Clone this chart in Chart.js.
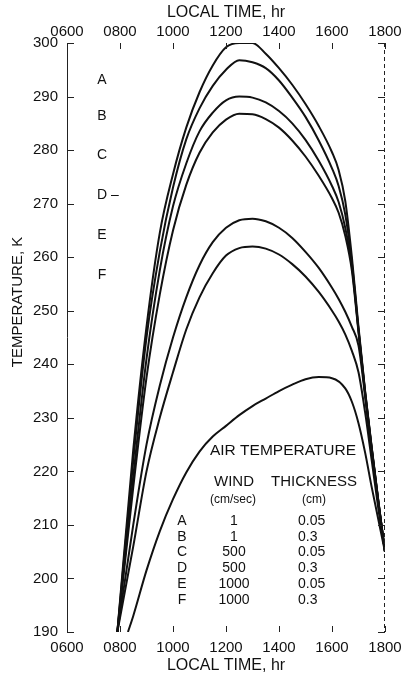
<!DOCTYPE html>
<html>
<head>
<meta charset="utf-8">
<script src="https://cdn.jsdelivr.net/npm/chart.js@4.4.1/dist/chart.umd.min.js"></script>
<style>
  html, body { margin: 0; padding: 0; background: #fff; }
  #wrap { width: 401px; height: 677px; position: relative; }
</style>
</head>
<body>
<div id="wrap"><canvas id="tempChart"></canvas></div>
<script>
// local time in hours, shared by the six surface curves
const hours = [7.9, 8.5, 9, 9.5, 10, 10.5, 11, 11.5, 12, 12.5, 13, 13.5, 14, 14.5, 15, 15.5, 16, 16.25, 16.5, 16.75, 17, 17.25, 17.5, 17.75, 18];
const tempA = [190, 224, 247, 264.5, 275.5, 284.2, 290.8, 295.8, 299.2, 300, 300, 298, 295.3, 292.2, 288.6, 284.5, 279.6, 276.3, 270.5, 260, 247, 235, 224.5, 214.5, 205];
const tempB = [190, 222, 245, 261, 273, 282, 287.8, 292, 295, 296.8, 296.4, 295.3, 293, 289.8, 286.2, 281.8, 276.6, 273.3, 268, 259, 246.5, 234.8, 224.3, 214.4, 205];
const tempC = [190, 219, 241, 257.5, 269.5, 277.5, 283.5, 287, 289.3, 290, 289.8, 288.9, 287.3, 285, 281.9, 278, 273.3, 270.3, 265.5, 258.3, 246.3, 234.6, 224.2, 214.3, 205];
const tempD = [190, 217, 237.5, 253, 265, 273.5, 279.5, 283.3, 285.7, 286.8, 286.7, 285.8, 284.2, 281.8, 278.8, 275.2, 271, 268.3, 264, 257.5, 246, 234.4, 224, 214.2, 205];
const tempE = [190, 210, 225, 236, 245, 252.5, 258.5, 262.8, 265.5, 266.9, 267.2, 266.7, 265.5, 263.6, 261, 258, 254.3, 252.2, 249.8, 247, 243.5, 234, 223.5, 214, 205];
const tempF = [190, 206, 220, 230, 238.5, 246.5, 252.5, 257, 260.3, 261.7, 262, 261.6, 260.5, 258.7, 256.4, 253.5, 250, 248, 245.6, 242.5, 238.5, 231, 222, 213, 205];

// air temperature curve
const airHours = [8.3, 8.5, 9, 9.5, 10, 10.5, 11, 11.5, 12, 12.5, 13, 13.5, 14, 14.5, 15, 15.5, 16, 16.5, 16.75, 17, 17.25, 17.5, 18];
const airTemp = [190, 193, 201.5, 208.8, 214.8, 219.8, 223.7, 226.5, 228.5, 230.5, 232.2, 233.6, 235, 236.2, 237.2, 237.6, 237.4, 235.5, 233, 229, 223.5, 217, 205];

// axis tick labels
const timeTicks = ['0600', '0800', '1000', '1200', '1400', '1600', '1800'];

// legend table
const caseLetters = ['A', 'B', 'C', 'D', 'E', 'F'];
const windSpeeds = ['1', '1', '500', '500', '1000', '1000'];
const thicknesses = ['0.05', '0.3', '0.05', '0.3', '0.05', '0.3'];

const FONT = '"Liberation Sans", Arial, sans-serif';
const INK = '#111';

function toPoints(xs, ys) {
    return xs.map((h, i) => ({ x: h, y: ys[i] }));
}

function lineSet(label, points) {
    return {
        label: label,
        data: points,
        borderColor: INK,
        borderWidth: 2,
        pointRadius: 0,
        fill: false,
        cubicInterpolationMode: 'monotone'
    };
}

const curves = [tempA, tempB, tempC, tempD, tempE, tempF];
const datasets = curves.map((c, i) => lineSet(caseLetters[i], toPoints(hours, c)));
datasets.push(lineSet('AIR TEMPERATURE', toPoints(airHours, airTemp)));

function timeLabel(value) {
    const idx = Math.round((value - 6) / 2);
    return timeTicks[idx] || '';
}

// fixed axis box sizes so the plot area sits where the original one does
function fixBox(size) {
    return s => {
        if (s.isHorizontal()) {
            s.height = size;
        } else {
            s.width = size;
        }
        s.paddingLeft = 0;
        s.paddingRight = 0;
    };
}

// axis lines, inward tick marks and the text inside the plot
const annotate = {
    id: 'annotate',
    afterDraw(chart) {
        const ctx = chart.ctx;
        const xs = chart.scales.x;
        const ys = chart.scales.y;
        const area = chart.chartArea;
        ctx.save();
        ctx.strokeStyle = '#222';
        ctx.lineWidth = 1;

        ctx.beginPath();
        ctx.moveTo(area.left + 0.5, area.top);
        ctx.lineTo(area.left + 0.5, area.bottom);
        ctx.stroke();
        ctx.setLineDash([4, 3]);
        ctx.beginPath();
        ctx.moveTo(area.right - 0.5, area.top);
        ctx.lineTo(area.right - 0.5, area.bottom);
        ctx.stroke();
        ctx.setLineDash([]);

        ctx.beginPath();
        ys.ticks.forEach(t => {
            const py = Math.round(ys.getPixelForValue(t.value)) + 0.5;
            ctx.moveTo(area.left, py);
            ctx.lineTo(area.left + 7, py);
            ctx.moveTo(area.right, py);
            ctx.lineTo(area.right - 7, py);
        });
        xs.ticks.forEach(t => {
            const px = Math.round(xs.getPixelForValue(t.value)) + 0.5;
            ctx.moveTo(px, area.bottom);
            ctx.lineTo(px, area.bottom - 6);
            ctx.moveTo(px, area.top);
            ctx.lineTo(px, area.top + 6);
        });
        ctx.stroke();

        ctx.fillStyle = INK;

        // y axis title
        ctx.save();
        ctx.translate(18, 302);
        ctx.rotate(-Math.PI / 2);
        ctx.font = '15px ' + FONT;
        ctx.textAlign = 'center';
        ctx.textBaseline = 'middle';
        ctx.fillText('TEMPERATURE, K', 0, 0);
        ctx.restore();

        // curve letters at left
        const letterTemps = [293, 286.3, 279, 271.6, 264.1, 256.6];
        ctx.font = '14px ' + FONT;
        ctx.textAlign = 'center';
        ctx.textBaseline = 'middle';
        caseLetters.forEach((l, i) => {
            ctx.fillText(i === 3 ? l + ' \u2013' : l, xs.getPixelForValue(7.32) + (i === 3 ? 6 : 0), ys.getPixelForValue(letterTemps[i]));
        });

        // legend table
        ctx.font = '15.5px ' + FONT;
        ctx.fillText('AIR TEMPERATURE', 283, 451);
        ctx.font = '15px ' + FONT;
        ctx.fillText('WIND', 234, 482);
        ctx.fillText('THICKNESS', 314, 482);
        ctx.font = '12px ' + FONT;
        ctx.fillText('(cm/sec)', 233, 500);
        ctx.fillText('(cm)', 314, 500);
        ctx.font = '14px ' + FONT;
        caseLetters.forEach((l, i) => {
            const ry = 521 + i * 15.8;
            ctx.textAlign = 'center';
            ctx.fillText(l, 182, ry);
            ctx.fillText(windSpeeds[i], 234, ry);
            ctx.textAlign = 'left';
            ctx.fillText(thicknesses[i], 298, ry);
        });
        ctx.restore();
    }
};

const tickFont = { family: FONT, size: 15 };
const titleFont = { family: FONT, size: 16 };

new Chart(document.getElementById('tempChart').getContext('2d'), {
    type: 'line',
    data: { datasets: datasets },
    options: {
        responsive: true,
        maintainAspectRatio: false,
        animation: false,
        layout: { padding: { left: 0, right: 16, top: 0, bottom: 0 } },
        plugins: {
            legend: { display: false },
            tooltip: { enabled: false }
        },
        scales: {
            x: {
                type: 'linear',
                position: 'bottom',
                min: 6,
                max: 18,
                grid: { display: false, drawTicks: false },
                border: { display: false },
                ticks: { stepSize: 2, color: INK, font: tickFont, padding: 7, maxRotation: 0, callback: timeLabel },
                title: { display: true, text: 'LOCAL TIME, hr', color: INK, font: titleFont, padding: { top: 0, bottom: 2 } },
                afterFit: fixBox(45)
            },
            x2: {
                type: 'linear',
                position: 'top',
                min: 6,
                max: 18,
                grid: { display: false, drawTicks: false },
                border: { display: false },
                ticks: { stepSize: 2, color: INK, font: tickFont, padding: 2, maxRotation: 0, callback: timeLabel },
                title: { display: true, text: 'LOCAL TIME, hr', color: INK, font: titleFont, padding: { top: 3, bottom: 0 } },
                afterFit: fixBox(43)
            },
            y: {
                type: 'linear',
                position: 'left',
                min: 190,
                max: 300,
                grid: { display: false, drawTicks: false },
                border: { display: false },
                ticks: { stepSize: 10, color: INK, font: tickFont, padding: 9 },
                afterFit: fixBox(67)
            }
        }
    },
    plugins: [annotate]
});
</script>
</body>
</html>
